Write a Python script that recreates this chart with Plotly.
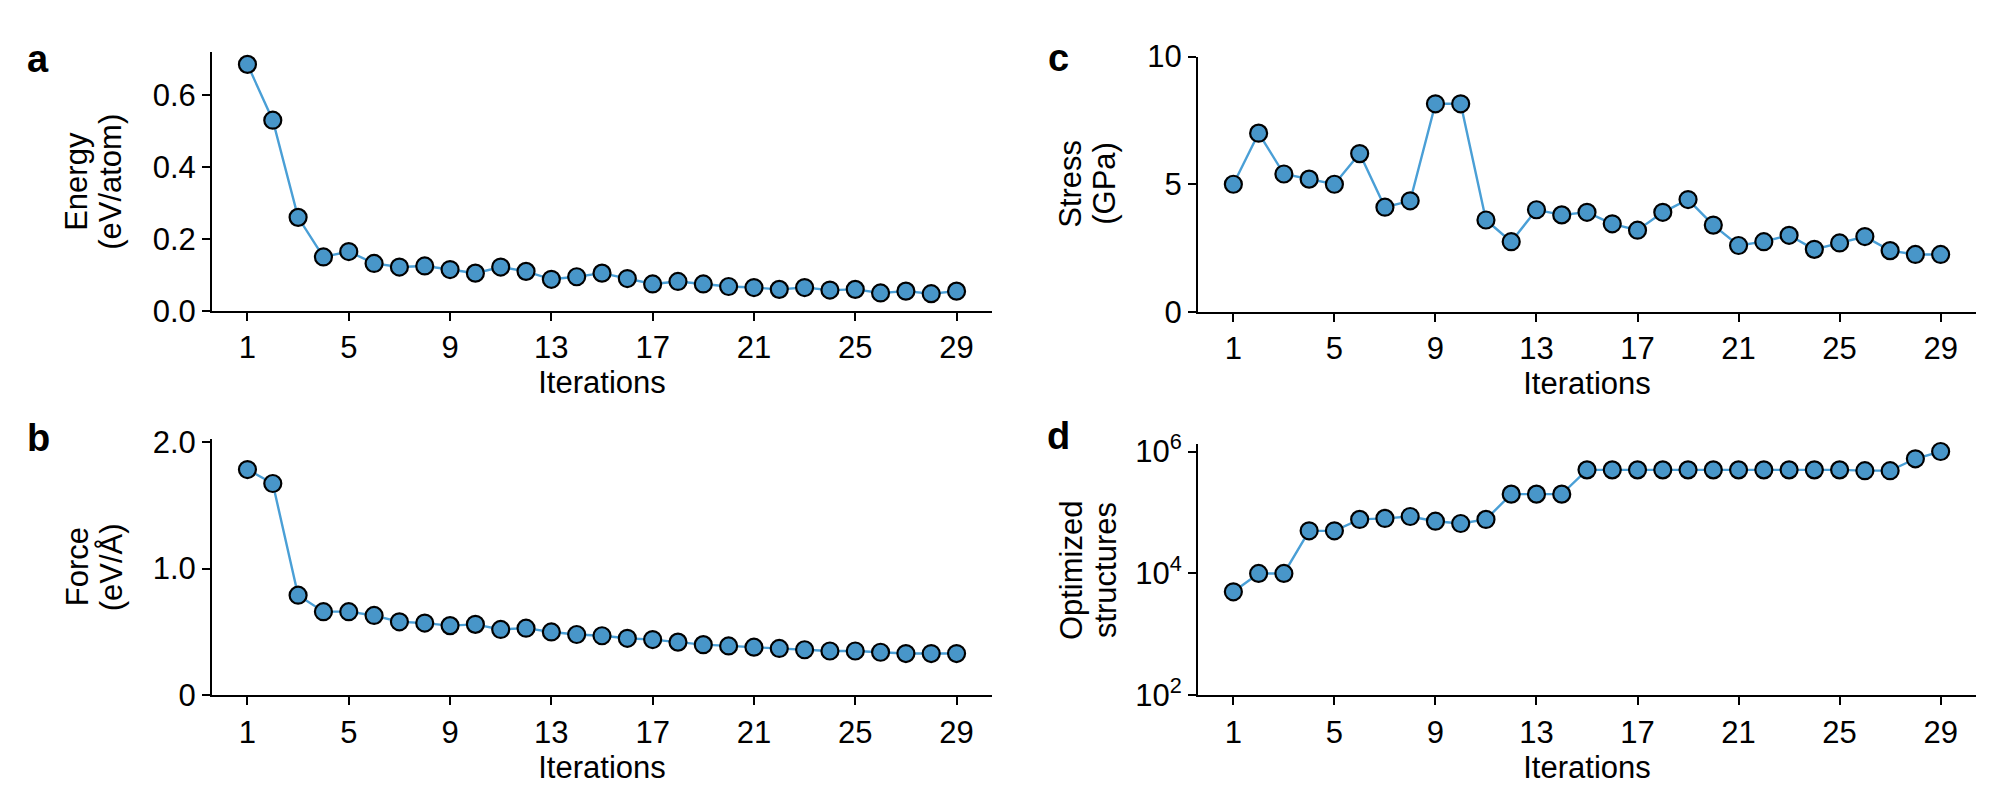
import plotly.graph_objects as go

W, H = 1993, 802

iterations = list(range(1, 30))
energy = [0.685, 0.53, 0.26, 0.15, 0.165, 0.132, 0.122, 0.125, 0.115, 0.105,
          0.122, 0.11, 0.088, 0.095, 0.105, 0.09, 0.075, 0.082, 0.075, 0.068,
          0.065, 0.06, 0.065, 0.058, 0.06, 0.05, 0.055, 0.048, 0.055]
force = [1.78, 1.67, 0.79, 0.66, 0.66, 0.63, 0.58, 0.57, 0.55, 0.56,
         0.52, 0.53, 0.50, 0.48, 0.47, 0.45, 0.44, 0.42, 0.40, 0.39,
         0.38, 0.37, 0.36, 0.35, 0.35, 0.34, 0.33, 0.33, 0.33]
stress = [5.0, 7.0, 5.4, 5.2, 5.0, 6.2, 4.1, 4.35, 8.15, 8.15,
          3.6, 2.75, 4.0, 3.8, 3.9, 3.45, 3.2, 3.9, 4.4, 3.4,
          2.6, 2.75, 3.0, 2.45, 2.7, 2.95, 2.4, 2.25, 2.25]
structures = [5000, 10000, 10000, 50000, 50000, 77000, 80000, 86000, 72000, 66000,
              77000, 200000, 200000, 200000, 500000, 500000, 500000, 500000, 500000, 500000,
              500000, 500000, 500000, 500000, 500000, 485000, 485000, 760000, 1000000]

x_ticks = [1, 5, 9, 13, 17, 21, 25, 29]
energy_ticks = [0.0, 0.2, 0.4, 0.6]
energy_ticklabels = ["0.0", "0.2", "0.4", "0.6"]
force_ticks = [0, 1.0, 2.0]
force_ticklabels = ["0", "1.0", "2.0"]
stress_ticks = [0, 5, 10]
stress_ticklabels = ["0", "5", "10"]
struct_ticks = [1e2, 1e4, 1e6]
struct_ticklabels = ["10<sup>2</sup>", "10<sup>4</sup>", "10<sup>6</sup>"]

FONT = "Liberation Sans, Arial, Helvetica, sans-serif"
LINE_C = "#4a9fd6"
FILL_C = "#4896c9"
FS = 31

def px_x(p):
    return p / W

def px_y(p):
    return 1 - p / H

fig = go.Figure()
panels = [
    ("x", "y", energy),
    ("x2", "y2", force),
    ("x3", "y3", stress),
    ("x4", "y4", structures),
]
for xa, ya, vals in panels:
    fig.add_trace(go.Scatter(
        x=iterations, y=vals, xaxis=xa, yaxis=ya, mode="lines+markers",
        line=dict(color=LINE_C, width=2.4),
        marker=dict(size=17, color=FILL_C, line=dict(color="black", width=2.2)),
        showlegend=False, cliponaxis=False,
    ))

common = dict(showline=True, linecolor="black", linewidth=2, ticks="outside",
              ticklen=8, tickwidth=2, tickcolor="black", showgrid=False,
              zeroline=False, tickfont=dict(size=FS, color="black", family=FONT))

xr = [-0.4, 30.4]
left_dom = [px_x(204), px_x(984)]
right_dom = [px_x(1190), px_x(1968)]
top_a = [px_y(299), px_y(28)]
top_c = [px_y(300), px_y(33)]
bot_b = [px_y(701), px_y(433)]
bot_d = [px_y(701), px_y(438)]

xtitle = dict(text="Iterations", font=dict(size=FS, color="black", family=FONT), standoff=0)

fig.update_layout(
    width=W, height=H, margin=dict(l=0, r=0, t=0, b=0),
    paper_bgcolor="white", plot_bgcolor="white",
    font=dict(family=FONT, color="black"),
    xaxis=dict(domain=left_dom, range=xr, tickvals=x_ticks, anchor="y", title=xtitle, **common),
    yaxis=dict(domain=top_a, range=[0, 0.72], tickvals=energy_ticks, ticktext=energy_ticklabels, anchor="x", **common),
    xaxis2=dict(domain=left_dom, range=xr, tickvals=x_ticks, anchor="y2", title=xtitle, **common),
    yaxis2=dict(domain=bot_b, range=[0, 2.02], tickvals=force_ticks, ticktext=force_ticklabels, anchor="x2", **common),
    xaxis3=dict(domain=right_dom, range=xr, tickvals=x_ticks, anchor="y3", title=xtitle, **common),
    yaxis3=dict(domain=top_c, range=[0, 10], tickvals=stress_ticks, ticktext=stress_ticklabels, anchor="x3", **common),
    xaxis4=dict(domain=right_dom, range=xr, tickvals=x_ticks, anchor="y4", title=xtitle, **common),
    yaxis4=dict(domain=bot_d, type="log", range=[2, 6.125], tickvals=struct_ticks, ticktext=struct_ticklabels, anchor="x4", **common),
)

# two-line y titles, each line placed separately for tight line spacing
ytitle_lines = [
    ("Energy", 69, 164), ("(eV/atom)", 103, 164),
    ("Force", 69, 567), ("(eV/Å)", 103, 567),
    ("Stress", 1063, 166), ("(GPa)", 1097, 166),
    ("Optimized", 1063, 570), ("structures", 1097, 570),
]
for txt, xp, yp in ytitle_lines:
    fig.add_annotation(text=txt, x=px_x(xp), y=px_y(yp), xref="paper", yref="paper",
                       showarrow=False, textangle=-90, xanchor="center", yanchor="middle",
                       font=dict(size=FS, color="black", family=FONT))

letters = [("a", 30, 36), ("b", 30, 432), ("c", 1050, 34), ("d", 1050, 430)]
for txt, xp, yp in letters:
    fig.add_annotation(text="<b>%s</b>" % txt, x=px_x(xp), y=px_y(yp), xref="paper", yref="paper",
                       showarrow=False, xanchor="center", yanchor="middle",
                       font=dict(size=38, color="black", family=FONT))

fig.write_html("out.html")
